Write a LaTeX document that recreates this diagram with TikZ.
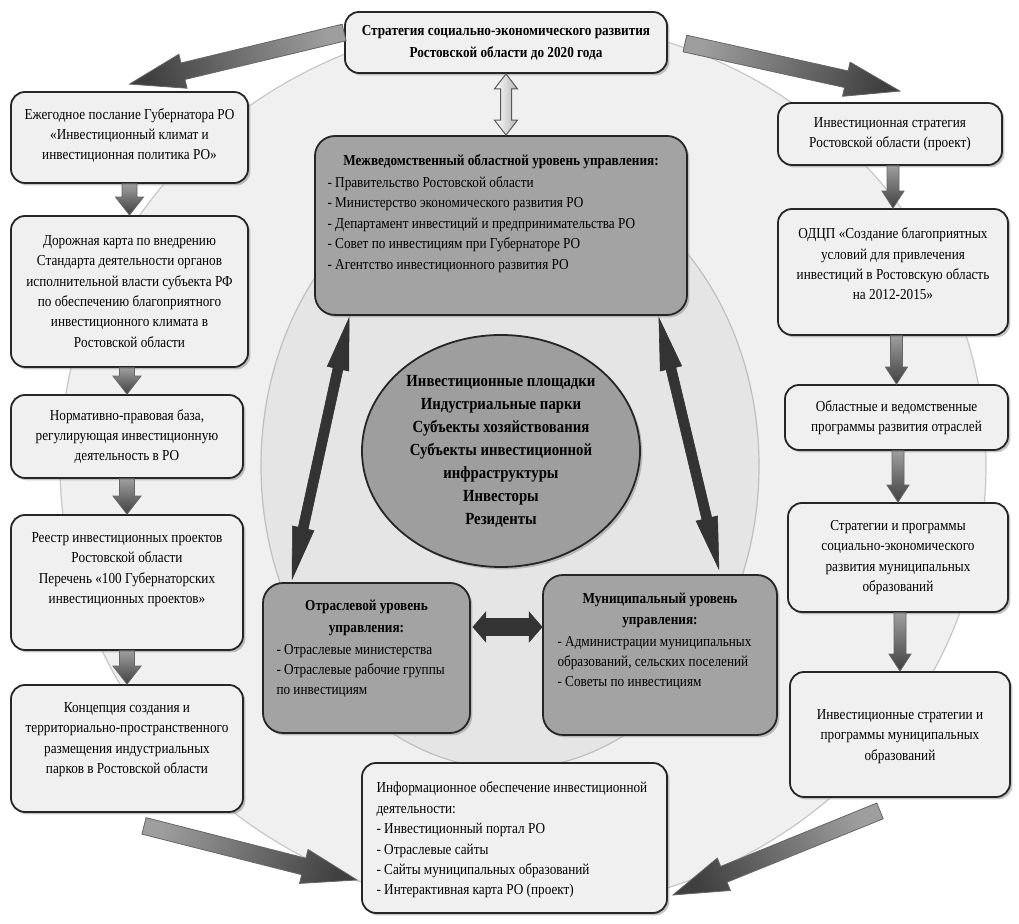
\documentclass[tikz,border=0pt]{standalone}
\usepackage{fontspec}
\setmainfont{Liberation Serif}[FakeStretch=0.87]
\usetikzlibrary{calc,fit,shadows,shapes.geometric}

\newcommand{\bodyfont}{\fontsize{7.6}{10.2}\selectfont}
\newcommand{\headfont}{\fontsize{7.6}{10.8}\selectfont\bfseries}
\newcommand{\corefont}{\fontsize{8.5}{11.5}\selectfont\bfseries}

% block arrow: #1 style, #2 tail, #3 tip, #4 half shaft, #5 half head, #6 head length
\newcommand{\onearrow}[6]{%
	\coordinate (hd) at ($(#3)!#6!(#2)$);
	\path[#1] ($(#2)!#4!90:(#3)$) -- ($(hd)!#4!90:(#3)$) -- ($(hd)!#5!90:(#3)$) -- (#3)
	-- ($(hd)!#5!-90:(#3)$) -- ($(hd)!#4!-90:(#3)$) -- ($(#2)!#4!-90:(#3)$) -- cycle;}
% double block arrow, same arguments
\newcommand{\twoarrow}[6]{%
	\coordinate (ha) at ($(#2)!#6!(#3)$);
	\coordinate (hb) at ($(#3)!#6!(#2)$);
	\path[#1] (#2) -- ($(ha)!#5!90:(#3)$) -- ($(ha)!#4!90:(#3)$) -- ($(hb)!#4!90:(#3)$)
	-- ($(hb)!#5!90:(#3)$) -- (#3) -- ($(hb)!#5!-90:(#3)$) -- ($(hb)!#4!-90:(#3)$)
	-- ($(ha)!#4!-90:(#3)$) -- ($(ha)!#5!-90:(#3)$) -- cycle;}

\tikzset{
LBOX/.style={draw=black!85, line width=0.9pt, rounded corners=7pt, inner sep=0pt,
	fill=white!94!black, drop shadow={shadow xshift=1.2pt, shadow yshift=-1.2pt, fill=black!45}},
DBOX/.style={LBOX, rounded corners=10pt, fill=white!64!black},
CORE/.style={ellipse, draw=black!85, line width=0.9pt, fill=white!62!black, inner sep=0pt,
	minimum width=139pt, minimum height=116pt, align=center, font=\corefont,
	drop shadow={shadow xshift=1.2pt, shadow yshift=-1.2pt, fill=black!45}},
TXT/.style={align=center, inner sep=0pt, font=\bodyfont},
HEAD/.style={align=center, inner sep=0pt, font=\headfont},
LIST/.style={align=left, inner sep=0pt, anchor=west, font=\bodyfont},
GRAYARROW/.style={draw=black!60, line width=0.4pt, top color=black!38, bottom color=black!75},
BLACKARROW/.style={fill=black!80, draw=black!80, line width=0.3pt},
HOLLOWARROW/.style={draw=black!65, line width=0.5pt, left color=white, right color=black!30},
}

\begin{document}
\begin{tikzpicture}
[x=0.5pt, y=-0.5pt]
	\useasboundingbox (0,0) rectangle (1019,924);
	% background rings
	\draw[draw=black!22, line width=0.6pt, fill=white!94!black] (523,465) ellipse [x radius=463, y radius=445];
	\draw[draw=black!25, line width=0.6pt, fill=white!90!black] (510,466) ellipse [x radius=249, y radius=303];

	% boxes
	\node[LBOX, fit={(345,12) (667,73)}] (strat) {};
	\node[LBOX, fit={(11,92) (248,183)}] (annual) {};
	\node[LBOX, fit={(11,216) (248,367)}] (roadmap) {};
	\node[LBOX, fit={(11,395) (243,478)}] (legal) {};
	\node[LBOX, fit={(11,515) (243,650)}] (registry) {};
	\node[LBOX, fit={(11,685) (243,812)}] (parks) {};
	\node[LBOX, fit={(778,103) (1002,165)}] (invstrat) {};
	\node[LBOX, fit={(778,209) (1008,335)}] (odcp) {};
	\node[LBOX, fit={(785,385) (1008,450)}] (branch) {};
	\node[LBOX, fit={(788,503) (1008,612)}] (socec) {};
	\node[LBOX, fit={(790,672) (1010,797)}] (muniprog) {};
	\node[LBOX, fit={(362,763) (667,913)}] (info) {};
	\node[DBOX, fit={(315,136) (687,315)}] (region) {};
	\node[DBOX, fit={(263,583) (470,733)}] (sector) {};
	\node[DBOX, fit={(543,575) (777,735)}] (munic) {};

	% texts
	\node[HEAD] (stratT) at (strat) {Стратегия социально-экономического развития\\Ростовской области до 2020 года};
	\node[TXT] (annualT) at ($(annual)+(0,-2)$) {Ежегодное послание Губернатора РО\\«Инвестиционный климат и\\инвестиционная политика РО»};
	\node[TXT] (roadmapT) at (roadmap) {Дорожная карта по внедрению\\Стандарта деятельности органов\\исполнительной власти субъекта РФ\\по обеспечению благоприятного\\инвестиционного климата в\\Ростовской области};
	\node[TXT] (legalT) at (legal) {Нормативно-правовая база,\\регулирующая инвестиционную\\деятельность в РО};
	\node[TXT] (registryT) at ($(registry)+(0,-13)$) {Реестр инвестиционных проектов\\Ростовской области\\Перечень «100 Губернаторских\\инвестиционных проектов»};
	\node[TXT] (parksT) at ($(parks)+(0,-9)$) {Концепция создания и\\территориально-пространственного\\размещения индустриальных\\парков в Ростовской области};
	\node[TXT] (invstratT) at (invstrat) {Инвестиционная стратегия\\Ростовской области (проект)};
	\node[TXT] (odcpT) at ($(odcp)+(0,-8)$) {ОДЦП «Создание благоприятных\\условий для привлечения\\инвестиций в Ростовскую область\\на 2012-2015»};
	\node[TXT] (branchT) at (branch) {Областные и ведомственные\\программы развития отраслей};
	\node[TXT] (socecT) at (socec) {Стратегии и программы\\социально-экономического\\развития муниципальных\\образований};
	\node[TXT] (muniprogT) at ($(muniprog)+(0,2)$) {Инвестиционные стратегии и\\программы муниципальных\\образований};
	\node[LIST] (infoT) at ($(info.west)+(15,2)$) {Информационное обеспечение инвестиционной\\деятельности:\\- Инвестиционный портал РО\\- Отраслевые сайты\\- Сайты муниципальных образований\\- Интерактивная карта РО (проект)};

	\node[HEAD] (regionH) at ($(region.north)+(0,27)$) {Межведомственный областной уровень управления:};
	\node[LIST] (regionT) at ($(region.west)+(13,-1)$) {- Правительство Ростовской области\\- Министерство экономического развития РО\\- Департамент инвестиций и предпринимательства РО\\- Совет по инвестициям при Губернаторе РО\\- Агентство инвестиционного развития РО};
	\node[HEAD] (sectorH) at ($(sector.north)+(0,36)$) {Отраслевой уровень\\управления:};
	\node[LIST] (sectorT) at ($(sector.west)+(14,13)$) {- Отраслевые министерства\\- Отраслевые рабочие группы\\по инвестициям};
	\node[HEAD] (municH) at ($(munic.north)+(0,36.5)$) {Муниципальный уровень\\управления:};
	\node[LIST] (municT) at ($(munic.west)+(15,8)$) {- Администрации муниципальных\\образований, сельских поселений\\- Советы по инвестициям};

	\node[CORE] (core) at (501,451) {Инвестиционные площадки\\Индустриальные парки\\Субъекты хозяйствования\\Субъекты инвестиционной\\инфраструктуры\\Инвесторы\\Резиденты};

	% column arrows
	\onearrow{GRAYARROW}{annual.south}{roadmap.north}{3.75pt}{7pt}{9pt}
	\onearrow{GRAYARROW}{roadmap.south -| legal.north}{legal.north}{3.75pt}{7pt}{9pt}
	\onearrow{GRAYARROW}{legal.south}{registry.north}{3.75pt}{7pt}{9pt}
	\onearrow{GRAYARROW}{registry.south}{parks.north}{3.75pt}{7pt}{9pt}
	\onearrow{GRAYARROW}{invstrat.south -| odcp.north}{odcp.north}{3pt}{5.5pt}{8.5pt}
	\onearrow{GRAYARROW}{odcp.south -| branch.north}{branch.north}{3pt}{5.5pt}{8.5pt}
	\onearrow{GRAYARROW}{branch.south -| socec.north}{socec.north}{3pt}{5.5pt}{8.5pt}
	\onearrow{GRAYARROW}{socec.south -| muniprog.north}{muniprog.north}{3pt}{5.5pt}{8.5pt}

	% big arrows round the ring
	\coordinate (a1) at ($(strat.west)+(0,-10)$);
	\coordinate (b1) at ($(annual.north)+(0,-7)$);
	\coordinate (a2) at ($(strat.east)+(17,1)$);
	\coordinate (b2) at ($(invstrat.north)+(10,-11)$);
	\coordinate (a3) at ($(parks.south)+(17,13)$);
	\coordinate (b3) at ($(info.west)+(-4,42)$);
	\coordinate (a4) at ($(muniprog.south)+(-20,13)$);
	\coordinate (b4) at ($(info.east)+(5,57)$);
	\onearrow{GRAYARROW, shading angle=-75}{a1}{b1}{4.25pt}{8.75pt}{27.5pt}
	\onearrow{GRAYARROW, shading angle=75}{a2}{b2}{4.25pt}{8.75pt}{27.5pt}
	\onearrow{GRAYARROW, shading angle=75}{a3}{b3}{4.25pt}{8.75pt}{27.5pt}
	\onearrow{GRAYARROW, shading angle=-65}{a4}{b4}{4.25pt}{8.75pt}{27.5pt}

	% links between the levels
	\twoarrow{HOLLOWARROW}{strat.south}{strat.south |- region.north}{2.75pt}{5.75pt}{7.5pt}
	\coordinate (l1) at ($(region.south west)+(35,2)$);
	\coordinate (l2) at ($(sector.north west)+(30,-3)$);
	\coordinate (r1) at ($(region.south east)+(-29,2)$);
	\coordinate (r2) at ($(munic.north east)+(-59,-5)$);
	\coordinate (h1) at ($(sector.east)+(2,-31)$);
	\coordinate (h2) at (h1 -| munic.west);
	\twoarrow{BLACKARROW}{l1}{l2}{2.5pt}{5.5pt}{26pt}
	\twoarrow{BLACKARROW}{r1}{r2}{2.5pt}{5.5pt}{26pt}
	\twoarrow{BLACKARROW}{h1}{h2}{4.25pt}{7.5pt}{6.5pt}
\end{tikzpicture}
\end{document}
